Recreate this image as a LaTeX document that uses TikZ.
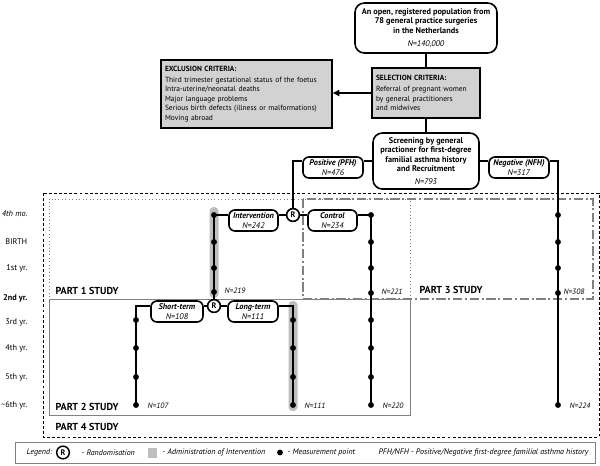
\documentclass[tikz,border=0pt]{standalone}
\usepackage{fontspec}
\setmainfont{PT Sans}
\usetikzlibrary{arrows.meta}
\definecolor{boxgray}{HTML}{D2D2D2}
\definecolor{bandgray}{HTML}{BEBEBE}
\definecolor{partgray}{HTML}{808080}
\begin{document}
\begin{tikzpicture}[x=0.75pt,y=-0.75pt,
  every node/.style={font=\fontsize{6.2}{7.1}\selectfont},
  rbox/.style={draw, line width=1.2pt, rounded corners=7pt, fill=white, align=center, inner sep=0pt},
  sbox/.style={rbox, rounded corners=4.5pt},
  gbox/.style={draw, line width=0.9pt, fill=boxgray, align=left, inner xsep=3pt, inner ysep=0pt, font=\fontsize{5.6}{7.1}\selectfont},
  link/.style={line width=1.2pt},
  rnd/.style={circle, draw, line width=1.1pt, fill=white, inner sep=0pt, minimum size=9.5pt, font=\fontsize{6}{6}\selectfont\bfseries},
  tlabel/.style={anchor=east},
  nlabel/.style={anchor=west, font=\fontsize{5.8}{6.5}\selectfont\itshape},
  partlabel/.style={anchor=west, font=\fontsize{7.6}{8}\selectfont\bfseries},
  legtext/.style={anchor=west, font=\fontsize{6}{7}\selectfont\itshape},
  part4/.style={line width=0.7pt, dash pattern=on 2.2pt off 1.6pt},
  part1/.style={line width=0.6pt, partgray, dotted},
  part3/.style={line width=0.8pt, partgray, dash pattern=on 7pt off 2pt on 1.5pt off 2pt},
  part2/.style={line width=0.6pt, partgray}
]
\useasboundingbox (0,0) rectangle (600,465);

% study part frames
\draw[part4] (43,193) rectangle (599,437);
\draw[part1] (49,199) rectangle (410,299);
\draw[part3] (303,199) rectangle (593,299);
\draw[part2] (49,299) rectangle (410,415);

% intervention bands
\fill[bandgray, rounded corners=3pt] (209.5,207) rectangle (218.5,298);
\fill[bandgray, rounded corners=3pt] (288.5,301) rectangle (297.5,411);

% boxes
\node[rbox, minimum width=142*0.75pt, minimum height=50*0.75pt] (top) at (426,28)
  {\textbf{An open, registered population from}\\ \textbf{78 general practice surgeries}\\ \textbf{in the Netherlands}\\[3pt] \textit{N=140,000}};
\node[gbox, minimum width=108*0.75pt, minimum height=50*0.75pt, text width=108*0.75pt-6pt] (sel) at (426,93)
  {\textbf{SELECTION CRITERIA:}\\[1.2pt] Referral of pregnant women\\ by general practitioners\\ and midwives};
\node[gbox, minimum width=171*0.75pt, minimum height=68*0.75pt, text width=171*0.75pt-6pt] (exc) at (246.5,94)
  {\textbf{EXCLUSION CRITERIA:}\\[1.2pt] Third trimester gestational status of the foetus\\ Intra-uterine/neonatal deaths\\ Major language problems\\ Serious birth defects (illness or malformations)\\ Moving abroad};
\node[rbox, minimum width=106*0.75pt, minimum height=56*0.75pt] (scr) at (426,161)
  {\textbf{Screening by general}\\ \textbf{practioner for first-degree}\\ \textbf{familial asthma history}\\ \textbf{and Recruitment}\\[2.5pt] \textit{N=793}};
\node[sbox, minimum width=60*0.75pt, minimum height=21*0.75pt] (pos) at (333,167.5)
  {\textbf{\textit{Positive (PFH)}}\\ \textit{N=476}};
\node[sbox, minimum width=60*0.75pt, minimum height=21*0.75pt] (neg) at (519,167.5)
  {\textbf{\textit{Negative (NFH)}}\\ \textit{N=317}};

\node[rnd] (r1) at (293,215) {R};
\node[rnd] (r2) at (214,306) {R};
\coordinate (c8) at (371,405);
\coordinate (n8) at (558,405);
\coordinate (s8) at (136,405);
\coordinate (l8) at (293,405);

\node[sbox, minimum width=49*0.75pt, minimum height=21*0.75pt] (int) at (253.5,220.5)
  {\textbf{\textit{Intervention}}\\ \textit{N=242}};
\node[sbox, minimum width=49*0.75pt, minimum height=21*0.75pt] (ctl) at (332.5,220.5)
  {\textbf{\textit{Control}}\\ \textit{N=234}};
\node[sbox, minimum width=52*0.75pt, minimum height=21*0.75pt] (st) at (177,311.5)
  {\textbf{\textit{Short-term}}\\ \textit{N=108}};
\node[sbox, minimum width=50*0.75pt, minimum height=21*0.75pt] (lt) at (253,311.5)
  {\textbf{\textit{Long-term}}\\ \textit{N=111}};

% connectors
\draw[link] (top.south) -- (sel.north);
\draw[link, -{Triangle[length=5pt,width=4.5pt]}] (sel.west) -- (sel.west -| exc.east);
\draw[link] (sel.south) -- (scr.north);
\draw[link] (scr.west) -- (scr.west -| pos.east);
\draw[link] (scr.east) -- (scr.east -| neg.west);
\draw[link] (scr.west -| pos.west) -| (r1.north);
\draw[link] (scr.east -| neg.east) -| (n8);
\draw[link] (r1.west) -- (r1.west -| int.east);
\draw[link] (r1.west -| int.west) -| (r2.north);
\draw[link] (r1.east) -- (r1.east -| ctl.west);
\draw[link] (r1.east -| ctl.east) -| (c8);
\draw[link] (r2.west) -- (r2.west -| st.east);
\draw[link] (r2.west -| st.west) -| (s8);
\draw[link] (r2.east) -- (r2.east -| lt.west);
\draw[link] (r2.east -| lt.east) -| (l8);

% measurement points
\foreach \y in {215,242,268,292} \fill (214,\y) circle (2.2pt);
\foreach \y in {215,242,268,293,320,348,377,405} \fill (371,\y) circle (2.2pt);
\foreach \y in {215,242,268,293,405} \fill (558,\y) circle (2.2pt);
\foreach \y in {320,348,377,405} {\fill (136,\y) circle (2.2pt); \fill (293,\y) circle (2.2pt);}

% redraw randomisation circles on top of lines
\node[rnd] at (r1) {R};
\node[rnd] at (r2) {R};

% N labels
\node[nlabel] (n219) at (220,291) {N=219};
\node[nlabel] (n221) at (377,292) {N=221};
\node[nlabel, anchor=east] (n308) at (589,292) {N=308};
\node[nlabel] (n107) at (143,406) {N=107};
\node[nlabel] (n111) at (300,406) {N=111};
\node[nlabel] (n220) at (378,406) {N=220};
\node[nlabel] (n224) at (565,406) {N=224};

% time labels
\node[tlabel] (t1) at (32,214) {\textit{4th mo.}};
\node[tlabel] (t2) at (32,242) {BIRTH};
\node[tlabel] (t3) at (32,268) {1st yr.};
\node[tlabel] (t4) at (32,298) {\textbf{2nd yr.}};
\node[tlabel] (t5) at (32,322) {3rd yr.};
\node[tlabel] (t6) at (32,348) {4th yr.};
\node[tlabel] (t7) at (32,377) {5th yr.};
\node[tlabel] (t8) at (32,405) {\textasciitilde6th yr.};

% part labels
\node[partlabel] (p1) at (51,291) {PART 1 STUDY};
\node[partlabel] (p3) at (415,290) {PART 3 STUDY};
\node[partlabel] (p2) at (51,407) {PART 2 STUDY};
\node[partlabel] (p4) at (51,427) {PART 4 STUDY};

% legend
\draw[line width=0.6pt, partgray] (15,442) rectangle (595,463);
\node[legtext] (lg) at (22,452.5) {Legend:};
\node[rnd] (lr) at (63,452.5) {R};
\node[legtext] (lrt) at (77,452.5) {- Randomisation};
\fill[bandgray] (148,447.5) rectangle (157,457.5);
\node[legtext] (lat) at (158,452.5) {- Administration of Intervention};
\fill (280,452.5) circle (2.2pt);
\node[legtext] (lmt) at (283,452.5) {- Measurement point};
\node[legtext] (lpf) at (374,452.5) {PFH/NFH - Positive/Negative first-degree familial asthma history};
\end{tikzpicture}
\end{document}
